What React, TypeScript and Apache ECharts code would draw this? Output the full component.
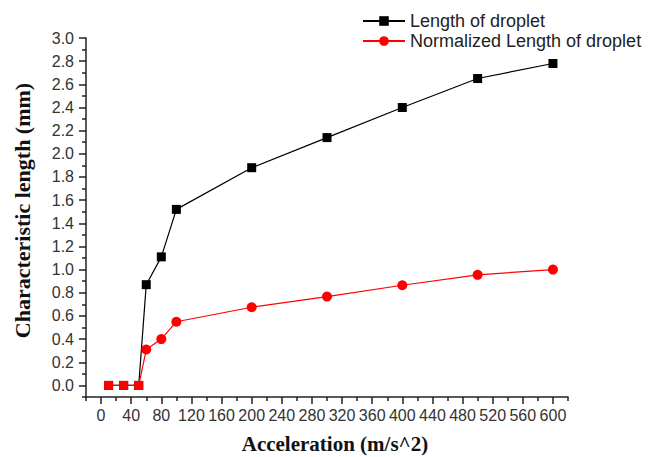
import React, { useEffect, useRef } from "react";
import * as echarts from "echarts";

const accel = [10, 30, 50, 60, 80, 100, 200, 300, 400, 500, 600];
const lengthDroplet = [0, 0, 0, 0.87, 1.11, 1.52, 1.88, 2.14, 2.4, 2.65, 2.78];
const normalizedLength = [0, 0, 0, 0.31, 0.4, 0.55, 0.675, 0.767, 0.865, 0.955, 1.0];
const zeroRegionCount = 3;

const xTicks = [0, 40, 80, 120, 160, 200, 240, 280, 320, 360, 400, 440, 480, 520, 560, 600];
const xMinorTicks = [-20, 20, 60, 100, 140, 180, 220, 260, 300, 340, 380, 420, 460, 500, 540, 580, 620];
const yTicks = [0, 0.2, 0.4, 0.6, 0.8, 1.0, 1.2, 1.4, 1.6, 1.8, 2.0, 2.2, 2.4, 2.6, 2.8, 3.0];
const yMinorTicks = [-0.1, 0.1, 0.3, 0.5, 0.7, 0.9, 1.1, 1.3, 1.5, 1.7, 1.9, 2.1, 2.3, 2.5, 2.7, 2.9];

const seriesNames = ["Length of droplet", "Normalized Length of droplet"];

export default function App() {
  const ref = useRef<HTMLDivElement>(null);
  useEffect(() => {
    if (!ref.current) return;
    const chart = echarts.init(ref.current, null, { renderer: "svg" });
    const axisColor = "#222";
    const labelStyle = { color: "#333", fontSize: 16, fontFamily: "Liberation Sans" };
    const nameStyle = { color: "#111", fontSize: 22, fontWeight: "bold" as const, fontFamily: "Liberation Serif" };
    const xMin = -20, xMax = 620, yMin = -0.1, yMax = 3.0;
    chart.setOption({
      animation: false,
      backgroundColor: "#fff",
      grid: { left: 86, right: 81, top: 38, bottom: 60, containLabel: false, outerBoundsMode: "none" },
      legend: {
        orient: "vertical",
        left: 362,
        top: 12,
        padding: 0,
        itemWidth: 42,
        itemHeight: 12,
        itemGap: 2,
        textStyle: { color: "#222", fontSize: 18, fontFamily: "Liberation Sans" },
        data: seriesNames,
      },
      xAxis: [
        {
          type: "value",
          min: xMin,
          max: xMax,
          position: "bottom",
          name: "Acceleration (m/s^2)",
          nameLocation: "middle",
          nameGap: 36,
          nameTextStyle: { ...nameStyle, fontSize: 21, lineHeight: 21, padding: [0, 0, 0, 16] },
          axisLine: { show: true, onZero: false, lineStyle: { color: axisColor, width: 1.5 } },
          axisTick: { show: true, inside: false, length: 7, customValues: xTicks, lineStyle: { color: axisColor, width: 1.5 } },
          axisLabel: { customValues: xTicks, margin: 10, ...labelStyle, formatter: (v: number) => String(v) },
          splitLine: { show: false },
        },
        {
          type: "value",
          min: xMin,
          max: xMax,
          position: "bottom",
          axisLine: { show: false, onZero: false },
          axisTick: { show: true, length: 4, customValues: xMinorTicks, lineStyle: { color: axisColor, width: 1.5 } },
          axisLabel: { show: false },
          splitLine: { show: false },
        },
      ],
      yAxis: [
        {
          type: "value",
          min: yMin,
          max: yMax,
          position: "left",
          name: "Characteristic length (mm)",
          nameLocation: "middle",
          nameGap: 53,
          nameTextStyle: { ...nameStyle, padding: [0, 0, 0, 14] },
          axisLine: { show: true, onZero: false, lineStyle: { color: axisColor, width: 1.5 } },
          axisTick: { show: true, length: 7, customValues: yTicks, lineStyle: { color: axisColor, width: 1.5 } },
          axisLabel: { customValues: yTicks, margin: 12, ...labelStyle, formatter: (v: number) => v.toFixed(1) },
          splitLine: { show: false },
        },
        {
          type: "value",
          min: yMin,
          max: yMax,
          position: "left",
          axisLine: { show: false, onZero: false },
          axisTick: { show: true, length: 4, customValues: yMinorTicks, lineStyle: { color: axisColor, width: 1.5 } },
          axisLabel: { show: false },
          splitLine: { show: false },
        },
      ],
      series: [
        {
          name: seriesNames[0],
          type: "line",
          xAxisIndex: 0,
          yAxisIndex: 0,
          data: accel.map((x, i) => [x, lengthDroplet[i]]),
          symbol: "rect",
          symbolSize: 9,
          itemStyle: { color: "#000" },
          lineStyle: { color: "#000", width: 1.2 },
        },
        {
          name: seriesNames[1],
          type: "line",
          xAxisIndex: 0,
          yAxisIndex: 0,
          data: accel.map((x, i) =>
            i < zeroRegionCount
              ? { value: [x, normalizedLength[i]], symbol: "rect", symbolSize: 9 }
              : { value: [x, normalizedLength[i]] }
          ),
          symbol: "circle",
          symbolSize: 10,
          itemStyle: { color: "#ff0000" },
          lineStyle: { color: "#ff0000", width: 1.2 },
        },
      ],
    });
    return () => chart.dispose();
  }, []);
  return <div ref={ref} style={{ position: "absolute", left: 0, top: 0, width: 649, height: 457 }} />;
}
